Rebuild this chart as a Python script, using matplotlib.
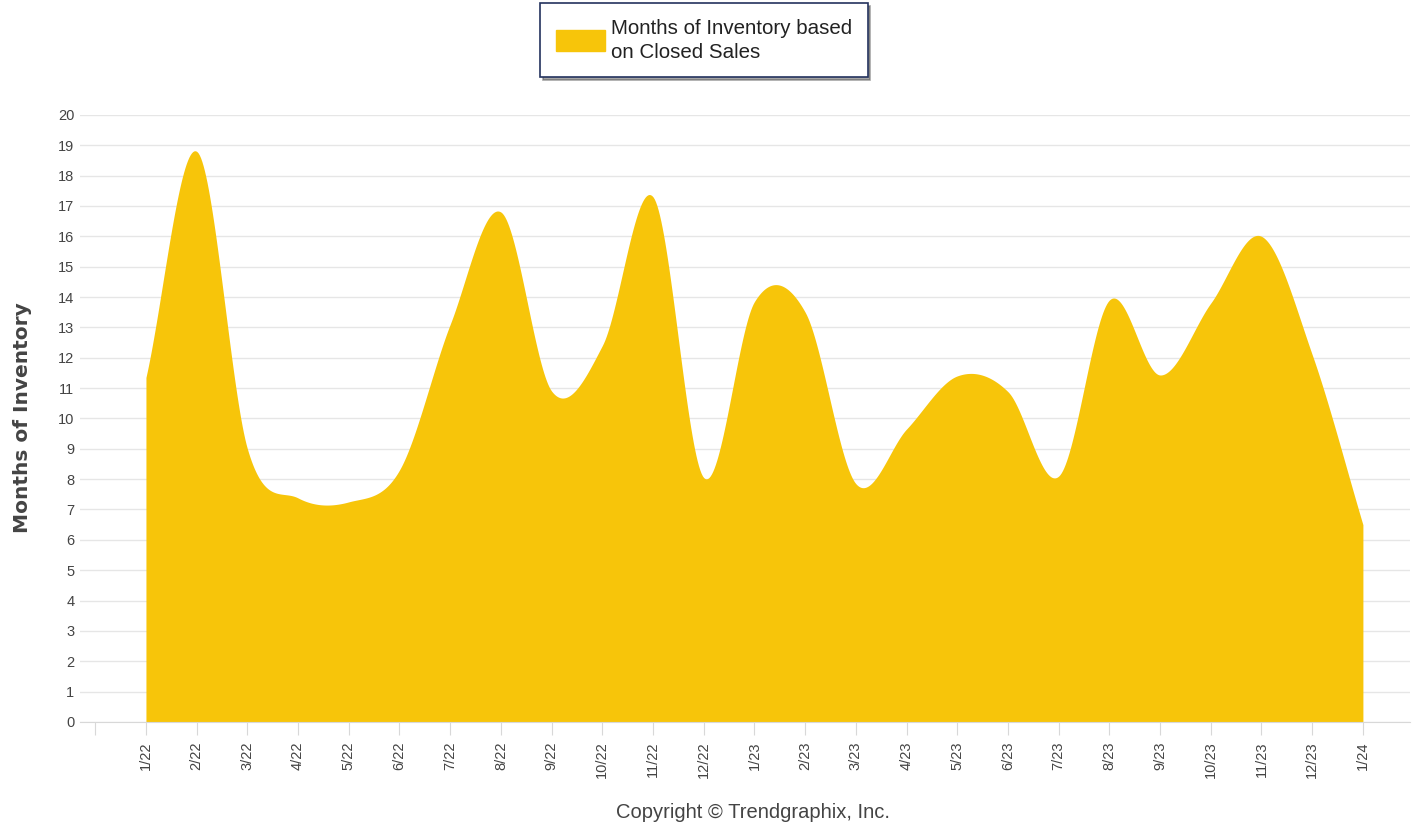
import matplotlib.pyplot as plt
import numpy as np
from matplotlib.patches import Patch

# Months of inventory
months = ["1/22", "2/22", "3/22", "4/22", "5/22", "6/22", "7/22", "8/22", "9/22",
          "10/22", "11/22", "12/22", "1/23", "2/23", "3/23", "4/23", "5/23", "6/23",
          "7/23", "8/23", "9/23", "10/23", "11/23", "12/23", "1/24"]
inventory = [11.35, 18.8, 9.0, 7.38, 7.25, 8.3, 13.1, 16.8, 10.9, 12.4, 17.3, 8.05,
             13.85, 13.5, 7.85, 9.65, 11.4, 10.88, 8.1, 13.9, 11.43, 13.8, 16.0, 12.1, 6.5]

FILL = "#f7c50a"
TXT = "#444444"


def smooth(xs, ys, steps=40):
    # catmull-rom curve through the points
    xs = np.asarray(xs, float)
    ys = np.asarray(ys, float)
    n = len(ys)
    m = np.zeros(n)
    m[1:-1] = (ys[2:] - ys[:-2]) / (xs[2:] - xs[:-2])
    m[0] = (ys[1] - ys[0]) / (xs[1] - xs[0])
    m[-1] = (ys[-1] - ys[-2]) / (xs[-1] - xs[-2])
    t = np.linspace(0, 1, steps)
    h00 = 2 * t**3 - 3 * t**2 + 1
    h10 = t**3 - 2 * t**2 + t
    h01 = -2 * t**3 + 3 * t**2
    h11 = t**3 - t**2
    px, py = [], []
    for i in range(n - 1):
        dx = xs[i + 1] - xs[i]
        px.extend(xs[i] + t * dx)
        py.extend(h00 * ys[i] + h10 * dx * m[i] + h01 * ys[i + 1] + h11 * dx * m[i + 1])
    return np.array(px), np.array(py)


fig = plt.figure(figsize=(14.19, 8.26), dpi=100)
ax = fig.add_axes([0.0564, 0.126, 0.9373, 0.7349])

x = np.arange(len(months))
sx, sy = smooth(x, inventory)
ax.fill_between(sx, 0, sy, color=FILL, linewidth=0, zorder=2)

ax.set_xlim(-1.3, 24.93)
ax.set_ylim(0, 20)
ax.set_yticks(range(0, 21))
ax.tick_params(axis="y", length=0, labelsize=10.5, labelcolor=TXT, pad=4)
ax.grid(axis="y", color="#e6e6e6", linewidth=1, zorder=0)

ax.set_xticks(np.arange(-1, 25))
ax.set_xticklabels([""] + months, rotation=90, fontsize=10.5, color=TXT)
ax.tick_params(axis="x", length=9, color="#d8d8d8", pad=5)

for side in ["top", "right", "left"]:
    ax.spines[side].set_visible(False)
ax.spines["bottom"].set_color("#d8d8d8")

for lab in ax.get_yticklabels() + ax.get_xticklabels():
    lab.set_family(["Liberation Sans Narrow", "Liberation Sans"])

fig.text(0.016, 0.494, "Months of Inventory", rotation=90, ha="center", va="center",
         fontsize=14.5, fontweight="bold", color=TXT)

leg = fig.legend(handles=[Patch(color=FILL)],
                 labels=["Months of Inventory based\non Closed Sales"],
                 loc="upper center", bbox_to_anchor=(0.496, 0.996),
                 borderaxespad=0,
                 prop={"family": "Liberation Sans", "size": 14.8},
                 handlelength=2.4, handleheight=1.2, handletextpad=0.3,
                 borderpad=0.75, labelspacing=0, fancybox=False, shadow=True)
leg.get_frame().set_edgecolor("#24325e")
leg.get_frame().set_linewidth(1.2)
for t in leg.get_texts():
    t.set_color("#222222")
    t.set_linespacing(1.35)

fig.text(0.531, 0.005, "Copyright \u00a9 Trendgraphix, Inc.", ha="center", va="bottom",
         fontsize=14.5, family="Liberation Sans", color=TXT)

fig.savefig("out.png", dpi=100)
